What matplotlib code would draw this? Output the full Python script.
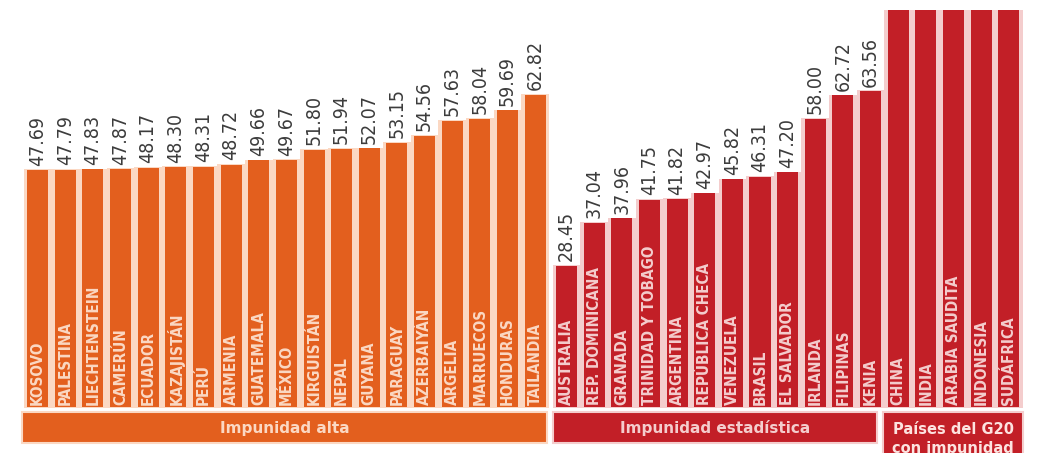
import matplotlib
matplotlib.use("Agg")
import matplotlib.pyplot as plt
from matplotlib.patches import Rectangle
import numpy as np


# Impunidad alta
ALTA_PAISES = ["KOSOVO", "PALESTINA", "LIECHTENSTEIN", "CAMERÚN", "ECUADOR", "KAZAJISTÁN",
               "PERÚ", "ARMENIA", "GUATEMALA", "MÉXICO", "KIRGUISTÁN", "NEPAL", "GUYANA",
               "PARAGUAY", "AZERBAIYÁN", "ARGELIA", "MARRUECOS", "HONDURAS", "TAILANDIA"]
ALTA_VALORES = [47.69, 47.79, 47.83, 47.87, 48.17, 48.30, 48.31, 48.72, 49.66, 49.67,
                51.80, 51.94, 52.07, 53.15, 54.56, 57.63, 58.04, 59.69, 62.82]

# Impunidad estadística
EST_PAISES = ["AUSTRALIA", "REP. DOMINICANA", "GRANADA", "TRINIDAD Y TOBAGO", "ARGENTINA",
              "REPÚBLICA CHECA", "VENEZUELA", "BRASIL", "EL SALVADOR", "IRLANDA",
              "FILIPINAS", "KENIA"]
EST_VALORES = [28.45, 37.04, 37.96, 41.75, 41.82, 42.97, 45.82, 46.31, 47.20, 58.00,
               62.72, 63.56]

# Países del G20 con impunidad (sin valor: las barras salen del gráfico)
G20_PAISES = ["CHINA", "INDIA", "ARABIA SAUDITA", "INDONESIA", "SUDÁFRICA"]
G20_VALORES = [100, 100, 100, 100, 100]

GRUPOS = ["Impunidad alta", "Impunidad estadística", "Países del G20\ncon impunidad"]

ORANGE = "#e35f1e"
ORANGE_LIGHT = "#fbd8c3"
RED = "#c21f27"
RED_LIGHT = "#f4cdcd"
GRAY_BG = "#e1e5e8"
BAR_W = 0.76


def main():
    fig = plt.figure(figsize=(10.47, 4.53), dpi=100, facecolor="white")
    ax = fig.add_axes([6 / 1047, 0, 1 - 6 / 1047, 443 / 453])
    ax.set_facecolor(GRAY_BG)
    ax.set_xlim(-1.14, 36.51)
    ax.set_ylim(-9.26, 79.9)
    ax.axis("off")
    ax.patch.set_visible(True)

    x_alta = np.arange(len(ALTA_VALORES))
    x_est = x_alta[-1] + 1.13 + np.arange(len(EST_VALORES))
    x_g20 = x_est[-1] + 1.0 + np.arange(len(G20_VALORES))

    groups = [
        (x_alta, ALTA_PAISES, ALTA_VALORES, ORANGE, ORANGE_LIGHT, True),
        (x_est, EST_PAISES, EST_VALORES, RED, RED_LIGHT, True),
        (x_g20, G20_PAISES, G20_VALORES, RED, RED_LIGHT, False),
    ]

    for xs, names, vals, color, light, show_vals in groups:
        vals = np.array(vals)
        ax.bar(xs, vals + 0.45, width=1.0, bottom=-0.3, color=light, zorder=1)
        ax.bar(xs, vals, width=BAR_W, color=color, zorder=2)
        for x, name, v in zip(xs, names, vals):
            ax.text(x, 0.5, name, rotation=90, ha="center", va="bottom",
                    fontsize=11, fontweight="bold", fontstretch="condensed",
                    color=light, zorder=3)
            if show_vals:
                ax.text(x, v + 0.9, f"{v:.2f}", rotation=90, ha="center", va="bottom",
                        fontsize=14, fontstretch="condensed", color="#3c3c3c", zorder=3)

    # bandas de grupo
    bands = [
        (x_alta[0] - 0.56, x_alta[-1] + 0.43, -7.24, ORANGE, ORANGE_LIGHT),
        (x_est[0] - 0.49, x_est[-1] + 0.23, -7.24, RED, RED_LIGHT),
        (x_g20[0] - 0.54, x_g20[-1] + 0.52, -10.0, RED, RED_LIGHT),
    ]
    for (x0, x1, y0, color, light), label in zip(bands, GRUPOS):
        ax.add_patch(Rectangle((x0, y0), x1 - x0, -1.01 - y0, facecolor=color,
                               edgecolor=light, linewidth=1.5, zorder=2))
        if "\n" in label:
            first, second = label.split("\n")
            ax.text((x0 + x1) / 2, -4.6, first, ha="center", va="center",
                    fontsize=10.5, fontweight="bold", color="#fde3e0", zorder=3)
            ax.text((x0 + x1) / 2, -8.4, second, ha="center", va="center",
                    fontsize=10.5, fontweight="bold", color="#fde3e0", zorder=3,
                    clip_on=True)
        else:
            ax.text((x0 + x1) / 2, -4.3, label, ha="center", va="center",
                    fontsize=11, fontweight="bold", color=light, zorder=3)

    fig.savefig("out.png", dpi=100, facecolor="white")
    plt.close(fig)


if __name__ == "__main__":
    main()
